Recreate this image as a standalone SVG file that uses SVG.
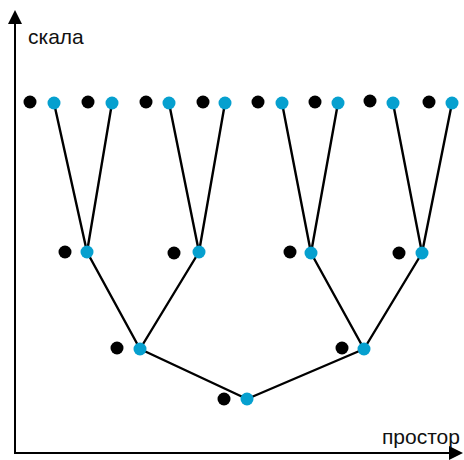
<svg xmlns="http://www.w3.org/2000/svg" width="464" height="460" viewBox="0 0 464 460">
<style>
.b{fill:#000}
.c{fill:#06a0cf}
.e{stroke:#000;stroke-width:2.4;fill:none;stroke-linecap:round}
.ax{stroke:#000;stroke-width:2;fill:none}
.t{font-family:"Liberation Sans",Arial,sans-serif;font-size:21px;fill:#111}
</style>
<defs>
<marker id="ah" markerWidth="14" markerHeight="14" refX="12" refY="7" orient="auto" markerUnits="userSpaceOnUse">
<path d="M0,0 L14,7 L0,14 Z" fill="#000"/>
</marker>
</defs>
<g id="axes">
<line class="ax" x1="15" y1="454" x2="15" y2="12" marker-end="url(#ah)"/>
<line class="ax" x1="14" y1="453" x2="461" y2="453" marker-end="url(#ah)"/>
<text class="t" x="28" y="44">скала</text>
<text class="t" x="382" y="444">простор</text>
</g>
<g id="connectors">
<line class="e" x1="54" y1="103" x2="87" y2="252"/>
<line class="e" x1="112" y1="103" x2="87" y2="252"/>
<line class="e" x1="169" y1="103" x2="199" y2="252"/>
<line class="e" x1="225" y1="103" x2="199" y2="252"/>
<line class="e" x1="282" y1="103" x2="311" y2="253"/>
<line class="e" x1="338" y1="103" x2="311" y2="253"/>
<line class="e" x1="393" y1="103" x2="422" y2="253"/>
<line class="e" x1="452" y1="103" x2="422" y2="253"/>
<line class="e" x1="87" y1="252" x2="140" y2="349"/>
<line class="e" x1="199" y1="252" x2="140" y2="349"/>
<line class="e" x1="311" y1="253" x2="364" y2="349"/>
<line class="e" x1="422" y1="253" x2="364" y2="349"/>
<line class="e" x1="140" y1="349" x2="247" y2="399"/>
<line class="e" x1="364" y1="349" x2="247" y2="399"/>
</g>
<g id="n1"><circle class="b" cx="30" cy="102" r="6.5"/><circle class="c" cx="54" cy="103" r="6.5"/></g>
<g id="n2"><circle class="b" cx="88" cy="102" r="6.5"/><circle class="c" cx="112" cy="103" r="6.5"/></g>
<g id="n3"><circle class="b" cx="146" cy="102" r="6.5"/><circle class="c" cx="169" cy="103" r="6.5"/></g>
<g id="n4"><circle class="b" cx="203" cy="102" r="6.5"/><circle class="c" cx="225" cy="103" r="6.5"/></g>
<g id="n5"><circle class="b" cx="258" cy="102" r="6.5"/><circle class="c" cx="282" cy="103" r="6.5"/></g>
<g id="n6"><circle class="b" cx="315" cy="102" r="6.5"/><circle class="c" cx="338" cy="103" r="6.5"/></g>
<g id="n7"><circle class="b" cx="370" cy="101" r="6.5"/><circle class="c" cx="393" cy="103" r="6.5"/></g>
<g id="n8"><circle class="b" cx="429" cy="102" r="6.5"/><circle class="c" cx="452" cy="103" r="6.5"/></g>
<g id="m1"><circle class="b" cx="65" cy="252" r="6.5"/><circle class="c" cx="87" cy="252" r="6.5"/></g>
<g id="m2"><circle class="b" cx="174" cy="253" r="6.5"/><circle class="c" cx="199" cy="252" r="6.5"/></g>
<g id="m3"><circle class="b" cx="290" cy="252" r="6.5"/><circle class="c" cx="311" cy="253" r="6.5"/></g>
<g id="m4"><circle class="b" cx="399" cy="253" r="6.5"/><circle class="c" cx="422" cy="253" r="6.5"/></g>
<g id="l1"><circle class="b" cx="117" cy="348" r="6.5"/><circle class="c" cx="140" cy="349" r="6.5"/></g>
<g id="l2"><circle class="b" cx="342" cy="348" r="6.5"/><circle class="c" cx="364" cy="349" r="6.5"/></g>
<g id="root"><circle class="b" cx="224" cy="399" r="6.5"/><circle class="c" cx="247" cy="399" r="6.5"/></g>
</svg>
